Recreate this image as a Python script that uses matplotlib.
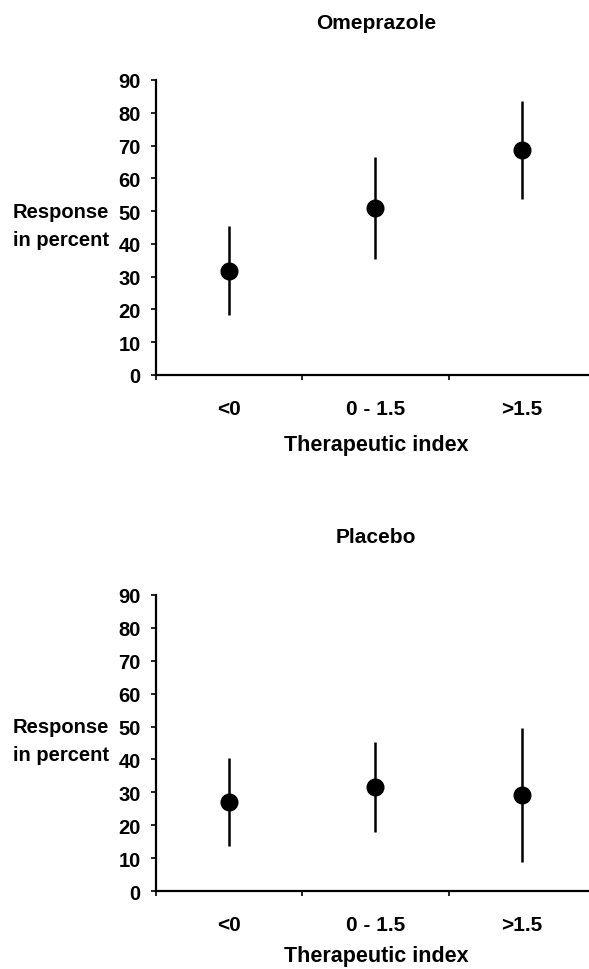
import numpy as np
import matplotlib
matplotlib.use('Agg')
import matplotlib.pyplot as plt

plt.rcParams['font.family'] = ['Liberation Sans', 'DejaVu Sans']
plt.rcParams['font.weight'] = 'bold'

# groups of therapeutic index
groups = ['<0', '0 - 1.5', '>1.5']

# omeprazole: response in percent with lower and upper bounds
ome_mean = [31.7, 50.9, 68.6]
ome_low = [18.3, 35.4, 53.7]
ome_high = [45.5, 66.5, 83.6]

# placebo
pla_mean = [27.1, 31.6, 29.2]
pla_low = [13.7, 17.9, 8.8]
pla_high = [40.4, 45.3, 49.6]

fig = plt.figure(figsize=(5.89, 9.70), dpi=100)

ax1 = fig.add_axes([0.2649, 0.6124, 0.7351, 0.3041])
ax2 = fig.add_axes([0.2649, 0.0804, 0.7351, 0.3052])


def draw_panel(ax, mean, low, high, title, title_y, xlab_y):
    x = np.arange(len(groups)) + 0.5
    mean = np.array(mean)
    err = [mean - np.array(low), np.array(high) - mean]
    ax.errorbar(x, mean, yerr=err, fmt='o', color='black', ms=12,
                elinewidth=1.8, capsize=0, clip_on=False)
    ax.set_xlim(0, 2.96)
    ax.set_ylim(0, 90)
    ax.set_yticks(range(0, 91, 10))
    ax.tick_params(axis='y', direction='out', length=3.5, width=1.2,
                   pad=7.5, labelsize=14.5)

    # ticks between groups, labels at group centres
    ax.set_xticks([0, 1, 2])
    ax.set_xticklabels([])
    ax.tick_params(axis='x', which='major', direction='out', length=3.5,
                   width=1.2)
    ax.set_xticks(x, minor=True)
    ax.set_xticklabels(groups, minor=True)
    ax.tick_params(axis='x', which='minor', length=0, pad=17, labelsize=15)

    for s in ['top', 'right']:
        ax.spines[s].set_visible(False)
    for s in ['left', 'bottom']:
        ax.spines[s].set_linewidth(1.6)

    ax.set_xlabel('Therapeutic index', fontsize=15.5, fontweight='bold', va='baseline')
    ax.xaxis.set_label_coords(0.508, xlab_y)
    ax.set_ylabel('Response\nin percent', fontsize=14.5, fontweight='bold',
                  rotation=0, ha='center', va='center', linespacing=1.6)
    ax.yaxis.set_label_coords(-0.219, 0.508)

    fig.text(0.638, title_y, title, ha='center', va='center',
             fontsize=15, fontweight='bold')


draw_panel(ax1, ome_mean, ome_low, ome_high, 'Omeprazole', 0.976, -0.254)
draw_panel(ax2, pla_mean, pla_low, pla_high, 'Placebo', 0.446, -0.236)

plt.savefig('out.png', dpi=100)
